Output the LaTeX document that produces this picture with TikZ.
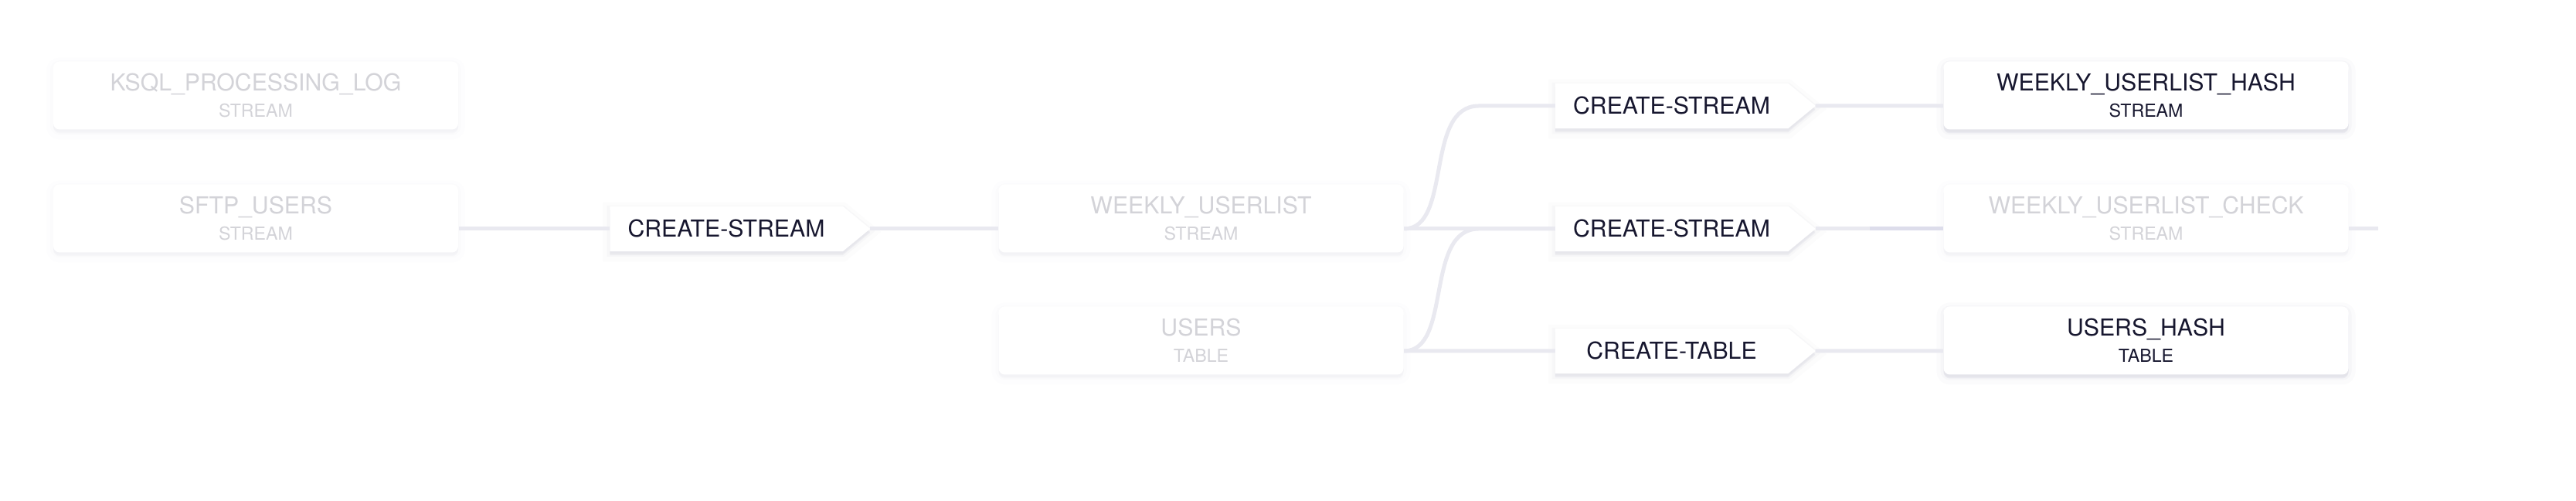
\documentclass[tikz,border=0pt]{standalone}
\usepackage{fontspec}
\setmainfont{TeX Gyre Heros}
\usepackage{tikz}
\usetikzlibrary{calc}
\usetikzlibrary{backgrounds,shadows}

\definecolor{ink}{HTML}{17172F}
\definecolor{fade}{HTML}{D3D3D8}
\definecolor{wire}{HTML}{E9E9F0}
\definecolor{wiredark}{HTML}{DDDDEB}
\definecolor{haze}{HTML}{6E6E96}

\tikzset{
  box/.style={rectangle,rounded corners=0.08cm,fill=white,minimum width=5.24cm,
    minimum height=0.88cm,inner sep=0pt,align=center,font=\fontsize{8.6}{9.8}\selectfont},
  soft/.style={
    drop shadow={fill=haze,draw=haze,line width=0.18cm,opacity=#1/3,shadow xshift=0pt,shadow yshift=-0.04cm},
    drop shadow={fill=haze,draw=haze,line width=0.08cm,opacity=#1/2,shadow xshift=0pt,shadow yshift=-0.03cm},
    drop shadow={fill=haze,opacity=#1,shadow xshift=0pt,shadow yshift=-0.05cm}},
  live/.style={box,text=ink,soft=0.07},
  faded/.style={box,text=fade,soft=0.025},
  op/.style={rectangle,minimum width=3cm,minimum height=0.57cm,inner sep=0pt,
    text=ink,font=\fontsize{8.6}{9.8}\selectfont},
  opfill/.style={fill=white,soft=0.06},
  link/.style={draw=wire,line width=0.05cm},
}
\newcommand{\kindof}[1]{{\fontsize{6.6}{9.8}\selectfont #1}}

\begin{document}
\begin{tikzpicture}
    \useasboundingbox (0,0) rectangle (33.34,6.48);
    % sources
    \node[faded] (ksql) at (3.31,5.245) {KSQL\_PROCESSING\_LOG\\\kindof{STREAM}};
    \node[faded] (sftp) at (3.31,3.655) {SFTP\_USERS\\\kindof{STREAM}};
    \node[faded] (wul) at (15.545,3.655) {WEEKLY\_USERLIST\\\kindof{STREAM}};
    \node[faded] (users) at (15.545,2.075) {USERS\\\kindof{TABLE}};
    % sinks
    \node[live] (wuh) at (27.775,5.245) {WEEKLY\_USERLIST\_HASH\\\kindof{STREAM}};
    \node[faded] (wuc) at (27.775,3.655) {WEEKLY\_USERLIST\_CHECK\\\kindof{STREAM}};
    \node[live] (uh) at (27.775,2.075) {USERS\_HASH\\\kindof{TABLE}};
    % queries
    \node[op] (cs1) at (9.40,3.52) {CREATE-STREAM};
    \node[op] (cs2) at (21.635,5.11) {CREATE-STREAM};
    \node[op] (cs3) at (21.635,3.52) {CREATE-STREAM};
    \node[op] (ct) at (21.635,1.94) {CREATE-TABLE};
    \coordinate (tip1) at ($(cs1.east)+(0.355,0)$);
    \coordinate (tip2) at ($(cs2.east)+(0.355,0)$);
    \coordinate (tip3) at ($(cs3.east)+(0.355,0)$);
    \coordinate (tip4) at ($(ct.east)+(0.355,0)$);
    \coordinate (out) at (30.78,3.52);
    \begin{pgfonlayer}{background}
      \fill[white] (0,0) rectangle (33.34,6.48);
      \fill[opfill] (cs1.north west) -- (cs1.north east) -- (tip1) -- (cs1.south east) -- (cs1.south west) -- cycle;
      \fill[opfill] (cs2.north west) -- (cs2.north east) -- (tip2) -- (cs2.south east) -- (cs2.south west) -- cycle;
      \fill[opfill] (cs3.north west) -- (cs3.north east) -- (tip3) -- (cs3.south east) -- (cs3.south west) -- cycle;
      \fill[opfill] (ct.north west) -- (ct.north east) -- (tip4) -- (ct.south east) -- (ct.south west) -- cycle;
    \end{pgfonlayer}
    % connectors
    \draw[link] ([yshift=-0.135cm]sftp.east) -- (cs1.west);
    \draw[link] (tip1) -- ([yshift=-0.135cm]wul.west);
    \draw[link] ([yshift=-0.135cm]wul.east) .. controls (18.80,3.52) and (18.43,5.11) .. (19.14,5.11) -- (cs2.west);
    \draw[link] ([yshift=-0.135cm]wul.east) -- (cs3.west);
    \draw[link] ([yshift=-0.135cm]users.east) .. controls (18.80,1.94) and (18.43,3.52) .. (19.14,3.52) -- (cs3.west);
    \draw[link] ([yshift=-0.135cm]users.east) -- (ct.west);
    \draw[link] (tip2) -- ([yshift=-0.135cm]wuh.west);
    \draw[link] (tip3) -- ([yshift=-0.135cm]wuc.west);
    \draw[link,draw=wiredark] ($(tip3)+(0.70,0)$) -- ([yshift=-0.135cm]wuc.west);
    \draw[link] (tip4) -- ([yshift=-0.135cm]uh.west);
    \draw[link] ([yshift=-0.135cm]wuc.east) -- (out);
\end{tikzpicture}
\end{document}
